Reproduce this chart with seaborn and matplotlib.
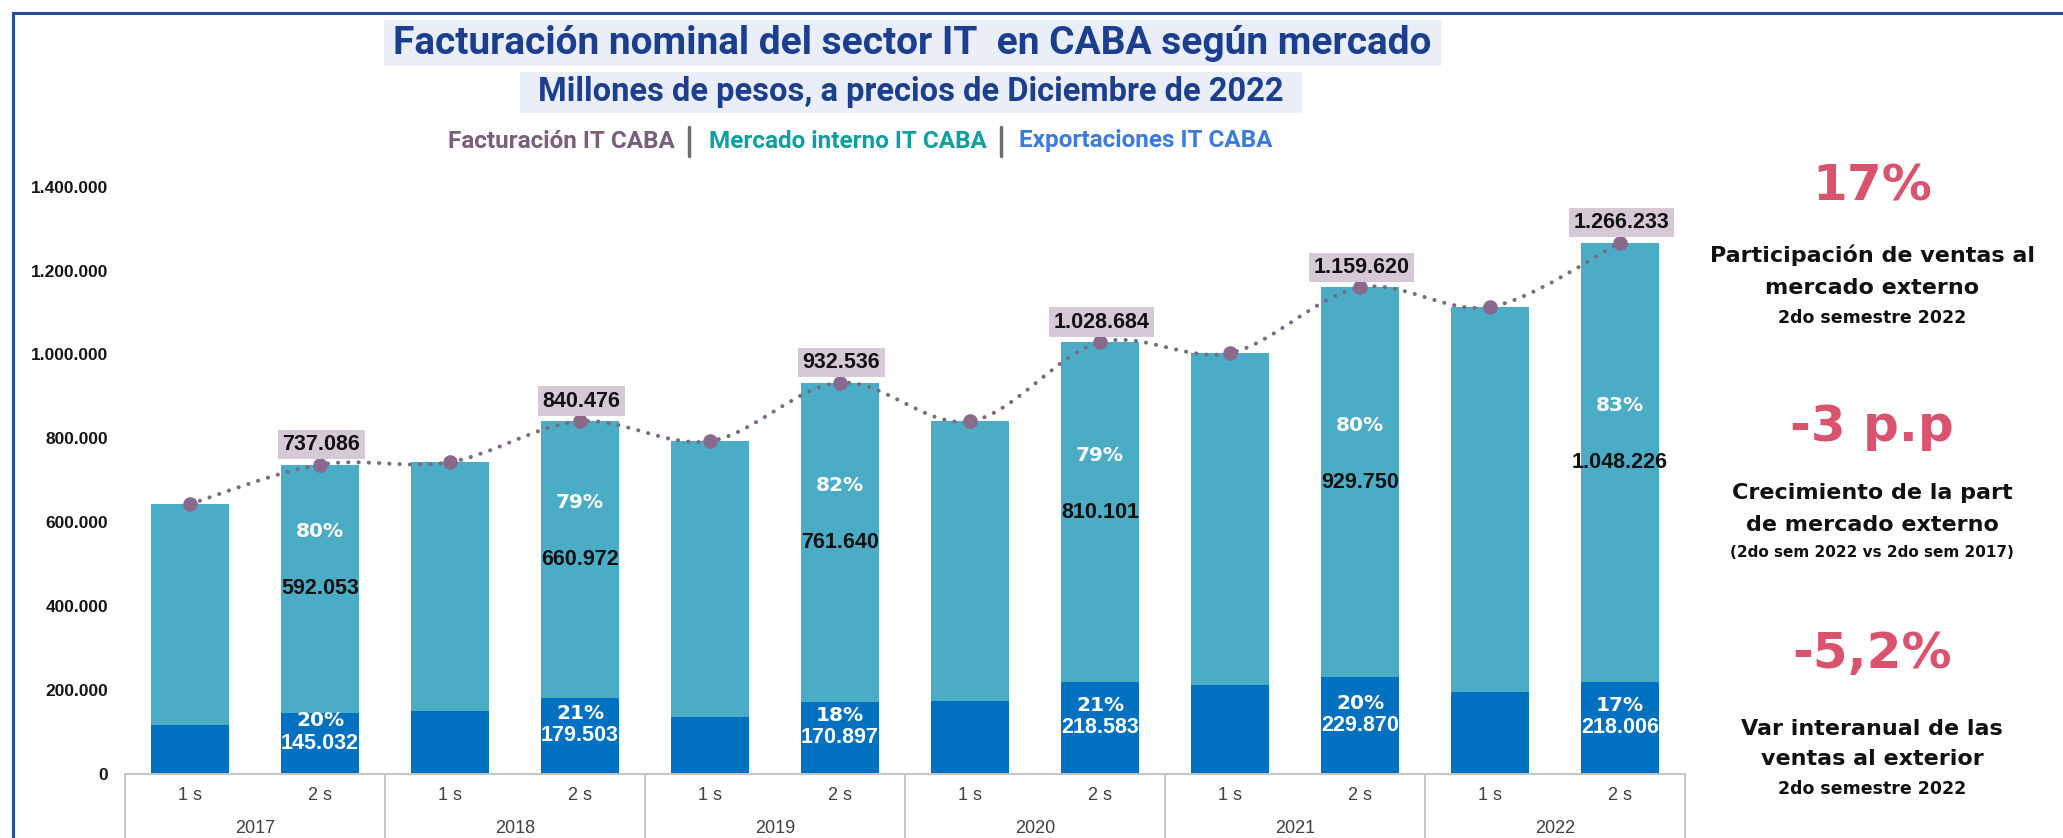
import numpy as np
import pandas as pd
import matplotlib
matplotlib.use("Agg")
import matplotlib.pyplot as plt
import matplotlib.transforms as mtransforms
from matplotlib.path import Path
from matplotlib.patches import PathPatch, Rectangle
from matplotlib.lines import Line2D
import seaborn as sns

# ---------------- data ----------------
years = ["2017", "2018", "2019", "2020", "2021", "2022"]
semesters = ["1 s", "2 s"]
periods = [f"{y} {s}" for y in years for s in semesters]

facturacion = [643000, 737086, 743000, 840476, 793000, 932536,
               840000, 1028684, 1003000, 1159620, 1113000, 1266233]
exportaciones = [116000, 145032, 150000, 179503, 135000, 170897,
                 172000, 218583, 210000, 229870, 194000, 218006]
mercado_interno = [527000, 592053, 593000, 660972, 658000, 761640,
                   668000, 810101, 793000, 929750, 919000, 1048226]
pct_interno = ["", "80%", "", "79%", "", "82%", "", "79%", "", "80%", "", "83%"]
pct_export = ["", "20%", "", "21%", "", "18%", "", "21%", "", "20%", "", "17%"]
show_labels = [False, True] * 6
y_ticks = [0, 200000, 400000, 600000, 800000, 1000000, 1200000, 1400000]

title = "Facturación nominal del sector IT  en CABA según mercado"
subtitle = "Millones de pesos, a precios de Diciembre de 2022"
legend_items = ["Facturación IT CABA", "Mercado interno IT CABA", "Exportaciones IT CABA"]
kpis = [
    ("17%", ["Participación de ventas al", "mercado externo"], "2do semestre 2022"),
    ("-3 p.p", ["Crecimiento de la part", "de mercado externo"], "(2do sem 2022 vs 2do sem 2017)"),
    ("-5,2%", ["Var interanual de las", "ventas al exterior"], "2do semestre 2022"),
]

# ---------------- style ----------------
C_INT = "#4BACC6"
C_EXP = "#0070C0"
C_TOT = "#8A6A8C"
C_DOT = "#7B6A82"
C_KPI = "#D9536F"
C_TITLE = "#1B3E8F"


def fmt(v):
    return f"{int(round(v)):,}".replace(",", ".")


sns.set_theme(style="white")
plt.rcParams["font.family"] = ["Liberation Sans", "DejaVu Sans"]

W, H = 2063, 838
fig = plt.figure(figsize=(W / 100, H / 100), dpi=100)
fig.patch.set_facecolor("white")


def fx(px):
    return px / W


def fy(py):
    return 1 - py / H


ax = fig.add_axes([fx(125), fy(773.5), fx(1685) - fx(125), fy(186.7) - fy(773.5)])

df = pd.DataFrame({"periodo": periods, "facturacion": facturacion,
                   "exportaciones": exportaciones, "interno": mercado_interno})

sns.barplot(data=df, x="periodo", y="facturacion", order=periods, color=C_INT,
            saturation=1, width=0.6, errorbar=None, ax=ax, zorder=2, linewidth=0)
sns.barplot(data=df, x="periodo", y="exportaciones", order=periods, color=C_EXP,
            saturation=1, width=0.6, errorbar=None, ax=ax, zorder=2, linewidth=0)

ax.set_xlim(-0.5, len(periods) - 0.5)
ax.set_ylim(0, 1400000)

# smooth dotted line through totals (Catmull-Rom -> cubic Bezier)
xs = np.arange(len(periods), dtype=float)
P = np.column_stack([xs, np.array(facturacion, dtype=float)])
verts = [tuple(P[0])]
codes = [Path.MOVETO]
n = len(P)
for i in range(n - 1):
    p0 = P[max(i - 1, 0)]
    p1 = P[i]
    p2 = P[i + 1]
    p3 = P[min(i + 2, n - 1)]
    c1 = p1 + (p2 - p0) / 6.0
    c2 = p2 - (p3 - p1) / 6.0
    verts += [tuple(c1), tuple(c2), tuple(p2)]
    codes += [Path.CURVE4] * 3
patch = PathPatch(Path(verts, codes), fill=False, edgecolor=C_DOT, lw=2.9,
                  linestyle=(0, (0.05, 2.5)), capstyle="round", zorder=4)
ax.add_patch(patch)
ax.plot(xs, facturacion, "o", ms=9.5, color=C_TOT, mec=C_TOT, zorder=5)

# labels
for i in range(n):
    if not show_labels[i]:
        continue
    tot = facturacion[i]
    exp = exportaciones[i]
    mi = mercado_interno[i]
    ax.annotate(fmt(tot), (i, tot), xytext=(1, 14.5), textcoords="offset points",
                ha="center", va="center", fontsize=15.5, fontweight="bold", color="#111111",
                bbox=dict(boxstyle="square,pad=0.2", fc="#D5C9D6", ec="none"), zorder=6)
    mid_int = exp + mi / 2
    ax.text(i, mid_int, fmt(mi), ha="center", va="center", fontsize=15.5,
            fontweight="bold", color="#111111", zorder=6)
    ax.annotate(pct_interno[i], (i, mid_int), xytext=(0, 41), textcoords="offset points",
                ha="center", va="center", fontsize=14.5, fontweight="bold", color="white",
                family="DejaVu Sans", zorder=6)
    mid_exp = exp / 2
    ax.text(i, mid_exp, fmt(exp), ha="center", va="center", fontsize=15.5,
            fontweight="bold", color="white", zorder=6)
    ax.annotate(pct_export[i], (i, mid_exp), xytext=(0, 16), textcoords="offset points",
                ha="center", va="center", fontsize=14.5, fontweight="bold", color="white",
                family="DejaVu Sans", zorder=6)

# axes styling
for s in ["left", "top", "right"]:
    ax.spines[s].set_visible(False)
ax.spines["bottom"].set_color("#C4C4C4")
ax.spines["bottom"].set_linewidth(1.4)
ax.set_yticks(y_ticks)
ax.set_yticklabels([fmt(v) for v in y_ticks], fontsize=12.5, fontweight="bold", color="#151515")
ax.tick_params(axis="y", length=0, pad=12)
ax.set_xticks(xs)
ax.set_xticklabels([p.split(" ", 1)[1] for p in periods], fontsize=13, color="#404040")
ax.tick_params(axis="x", length=0, pad=10)
ax.set_xlabel("")
ax.set_ylabel("")
ax.grid(False)

blend = mtransforms.blended_transform_factory(ax.transData, ax.transAxes)
for k, yr in enumerate(years):
    ax.text(2 * k + 0.5, -0.093, yr, transform=blend, ha="center", va="center",
            fontsize=13, color="#404040")
for k in range(len(years) + 1):
    b = 2 * k - 0.5
    ax.plot([b, b], [0, -0.2], transform=blend, color="#C8C8C8", lw=1.4, clip_on=False)

# frame
fig.patches.append(Rectangle((fx(13), -0.2), 1.5, fy(13) + 0.2, transform=fig.transFigure,
                             fill=False, ec="#2A4DA3", lw=2.2, zorder=0))

# title boxes
fig.patches.append(Rectangle((fx(384), fy(66)), fx(1441) - fx(384), fy(20) - fy(66),
                             transform=fig.transFigure, fc="#E9EEF9", ec="none", zorder=0))
fig.patches.append(Rectangle((fx(520), fy(113)), fx(1302) - fx(520), fy(72) - fy(113),
                             transform=fig.transFigure, fc="#E9EEF9", ec="none", zorder=0))
fig.text(fx(912), fy(43), title, ha="center", va="center", fontsize=28, fontweight="bold",
         family="Roboto", color=C_TITLE)
fig.text(fx(911), fy(92), subtitle, ha="center", va="center", fontsize=23.5, fontweight="bold",
         family="Roboto", color=C_TITLE)

# legend-like header
leg_colors = ["#7B5E7C", "#0E9FA0", "#3D7BDA"]
leg_x = [561, 848, 1146]
for t, c, x in zip(legend_items, leg_colors, leg_x):
    fig.text(fx(x), fy(141), t, ha="center", va="center", fontsize=17.5, fontweight="bold",
             family="Roboto", color=c)
for x in [689, 1001]:
    fig.lines.append(Line2D([fx(x), fx(x)], [fy(127), fy(156)], transform=fig.transFigure,
                            color="#6E6E6E", lw=2.5))

# KPI panel
kpi_y = [(186, [255, 288], 318), (427, [493, 525], 552), (654, [729, 759], 789)]
for (big, lines, small), (yb, yl, ys) in zip(kpis, kpi_y):
    fig.text(fx(1872), fy(yb), big, ha="center", va="center", fontsize=36, fontweight="bold",
             family="DejaVu Sans", color=C_KPI)
    for t, yy in zip(lines, yl):
        fig.text(fx(1872), fy(yy), t, ha="center", va="center", fontsize=16,
                 fontweight="bold", family="DejaVu Sans", color="#111111")
    fig.text(fx(1872), fy(ys), small, ha="center", va="center",
             fontsize=12.5 if len(small) < 20 else 11, fontweight="bold",
             family="DejaVu Sans", color="#111111")

fig.savefig("out.png", dpi=100)
